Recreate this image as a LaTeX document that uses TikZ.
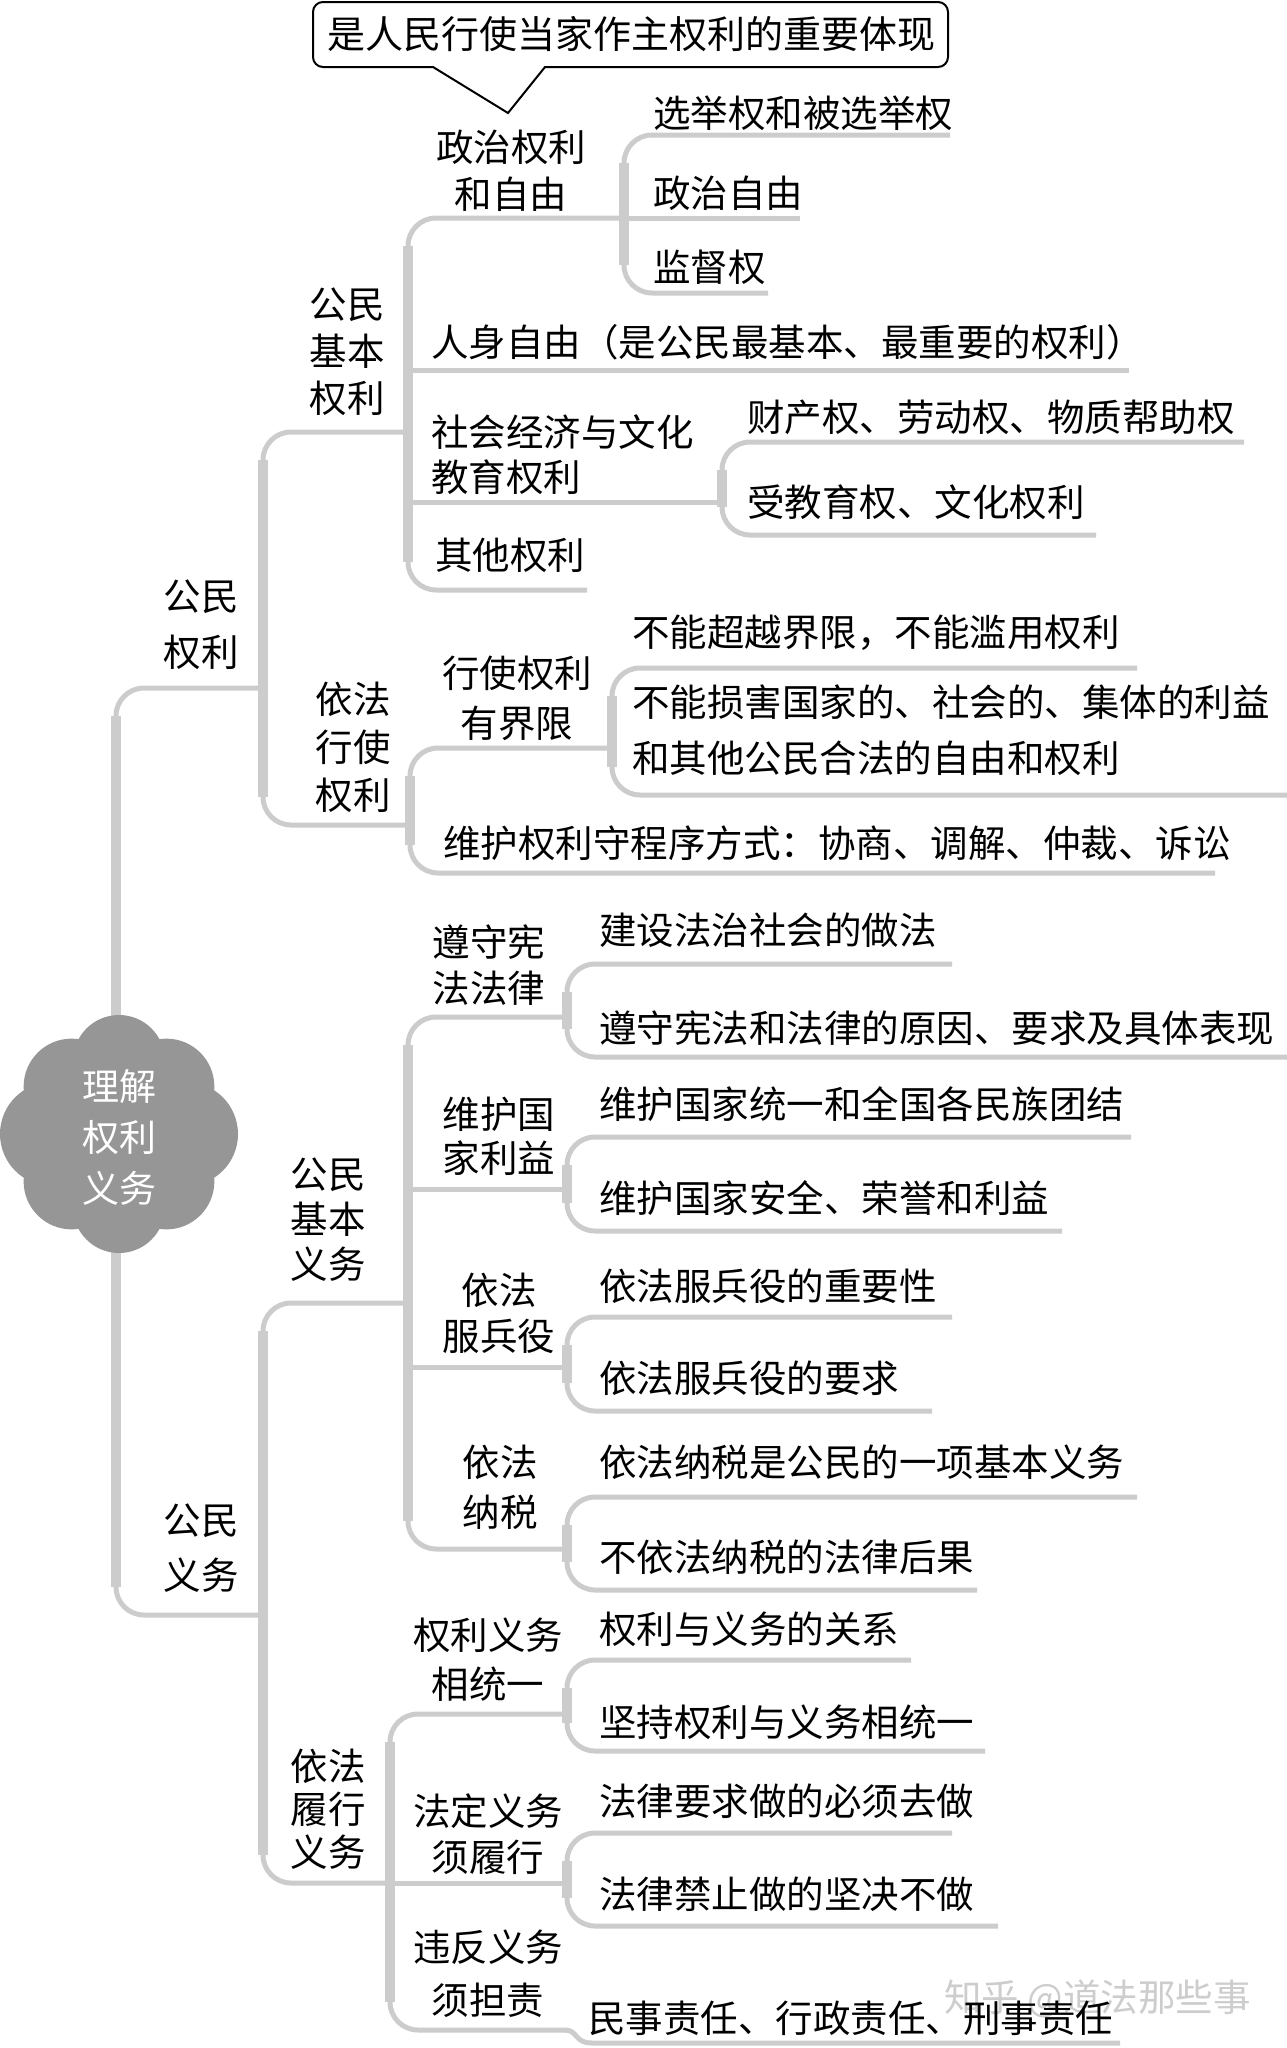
\documentclass[tikz,border=0pt]{standalone}
\usepackage{fontspec}
\newfontfamily\cjk{Noto Sans CJK SC}
\definecolor{lncol}{RGB}{204,204,204}
\definecolor{cloudgray}{RGB}{150,150,150}
\definecolor{wmcol}{RGB}{205,205,205}
\tikzset{
  lnthin/.style={draw=lncol, line width=5pt, rounded corners=28pt},
  lnthick/.style={draw=lncol, line width=10pt},
  txt/.style={font=\cjk\fontsize{37.5}{46}\selectfont, inner sep=0pt, text=black},
  lt/.style={txt, anchor=west},
  ct/.style={txt, align=center},
  ml/.style={font=\cjk\fontsize{37.5}{#1}\selectfont},
}
\newcommand\brk[5]{%
  \draw[lnthin] (#3,#2) -- (#1,#2) -- (#1,#4) -- (#5,#4);
  \draw[lnthick] (#1,{#2+28}) -- (#1,{#4-28});
}
\newcommand\hln[3]{\draw[draw=lncol, line width=5pt] (#2,#1) -- (#3,#1);}
\begin{document}
\begin{tikzpicture}[x=1pt,y=-1pt]
\fill[white] (0,0) rectangle (1287,2048);
\useasboundingbox (0,0) rectangle (1287,2048);

% watermark
\node[lt, text=wmcol] (wmk) at (944,1999) {知乎 @道法那些事};

% brackets
\brk{116}{688}{263}{1615}{263}
\brk{263}{432}{408}{825}{410}
\brk{408}{218}{624}{590}{587}
\brk{624}{135}{950}{293}{768}
\brk{722}{442}{1244}{535}{1096}
\brk{410}{748}{612}{873}{1215}
\brk{612}{668}{1137}{795}{1287}
\brk{263}{1303}{408}{1883}{390}
\brk{408}{1017}{567}{1549}{567}
\brk{567}{964}{952}{1057}{1287}
\brk{567}{1137}{1131}{1231}{1062}
\brk{567}{1317}{952}{1411}{932}
\brk{567}{1497}{1137}{1590}{977}
\brk{390}{1714}{567}{2030}{567}
\brk{567}{1660}{911}{1751}{985}
\brk{567}{1833}{952}{1926}{998}
% junction lines
\hln{370}{408}{1129}
\hln{502}{408}{722}
\hln{218}{624}{800}
\hln{1189}{408}{567}
\hln{1367}{408}{567}
\hln{1883}{390}{567}
\draw[draw=lncol, line width=5pt] (565,2030) .. controls (578,2030) and (574,2043) .. (592,2043) -- (1120,2043);

% root cloud
\fill[cloudgray] (119,1134) circle[radius=80pt];
\foreach \a/\d/\r in {90/73/46, 270/73/46, 0/67/52, 180/67/52, 45/67/48, 135/67/48, 225/67/48, 315/67/48}
  \fill[cloudgray, shift={(119,1134)}] (\a:\d) circle[radius=\r pt];
\node[txt, align=center, text=white, font=\cjk\fontsize{37}{51}\selectfont] (root) at (119,1137) {理解\\权利\\义务};

% callout
\draw[line width=2pt, rounded corners=10pt, fill=white] (400,67) -- (313,67) -- (313,2) -- (948,2) -- (948,67) -- (600,67) [sharp corners] -- (545,67) -- (508,113) -- (433,67) -- cycle;
\node[txt, font=\cjk\fontsize{38}{46}\selectfont] (callout) at (631,34) {是人民行使当家作主权利的重要体现};

% level 1
\node[ct, ml=56] (gmql) at (201,625) {公民\\权利};
\node[ct, ml=55] (gmyw) at (201,1548) {公民\\义务};
% level 2
\node[ct, ml=47] (jbql) at (347,352) {公民\\基本\\权利};
\node[ct, ml=48] (yfxs) at (353,747) {依法\\行使\\权利};
\node[ct, ml=45] (jbyw) at (328,1220) {公民\\基本\\义务};
\node[ct, ml=43] (yflx) at (328,1809) {依法\\履行\\义务};
% level 3 rights
\node[ct, ml=47] (zzql) at (511,171) {政治权利\\和自由};
\node[lt] (rsz) at (431,342) {人身自由（是公民最基本、最重要的权利）};
\node[lt, align=left, ml=45] (shjj) at (431,455) {社会经济与文化\\教育权利};
\node[lt] (qtql) at (435,555) {其他权利};
\node[lt] (xjq) at (653,113) {选举权和被选举权};
\node[lt] (zzzy) at (653,193) {政治自由};
\node[lt] (jdq) at (653,267) {监督权};
\node[lt] (ccq) at (747,417) {财产权、劳动权、物质帮助权};
\node[lt] (sjyq) at (747,502) {受教育权、文化权利};
\node[ct, ml=50] (xsql) at (517,698) {行使权利\\有界限};
\node[lt] (whql) at (443,843) {维护权利守程序方式：协商、调解、仲裁、诉讼};
\node[lt] (bncy) at (632,633) {不能超越界限，不能滥用权利};
\node[lt, align=left, ml=56] (bnsh) at (632,730) {不能损害国家的、社会的、集体的利益\\和其他公民合法的自由和权利};
% level 3 duties
\node[ct, ml=46] (zsxf) at (489,965) {遵守宪\\法法律};
\node[ct, ml=44] (whgj) at (499,1136) {维护国\\家利益};
\node[ct, ml=46] (fby) at (499,1313) {依法\\服兵役};
\node[ct, ml=50] (yfns) at (500,1487) {依法\\纳税};
\node[lt] (jsfz) at (599,930) {建设法治社会的做法};
\node[lt] (zsyy) at (599,1028) {遵守宪法和法律的原因、要求及具体表现};
\node[lt] (whty) at (599,1104) {维护国家统一和全国各民族团结};
\node[lt] (whaq) at (599,1198) {维护国家安全、荣誉和利益};
\node[lt] (fbzy) at (599,1286) {依法服兵役的重要性};
\node[lt] (fbyq) at (599,1378) {依法服兵役的要求};
\node[lt] (nsyw) at (599,1462) {依法纳税是公民的一项基本义务};
\node[lt] (nshg) at (599,1557) {不依法纳税的法律后果};
\node[ct, ml=49] (qlyw) at (488,1660) {权利义务\\相统一};
\node[ct, ml=46] (fdyw) at (488,1834) {法定义务\\须履行};
\node[ct, ml=53] (wfyw) at (488,1974) {违反义务\\须担责};
\node[lt] (qlgx) at (599,1629) {权利与义务的关系};
\node[lt] (jcql) at (599,1722) {坚持权利与义务相统一};
\node[lt] (flyq) at (599,1801) {法律要求做的必须去做};
\node[lt] (fljz) at (599,1894) {法律禁止做的坚决不做};
\node[lt] (mszr) at (588,2018) {民事责任、行政责任、刑事责任};
\end{tikzpicture}
\end{document}
